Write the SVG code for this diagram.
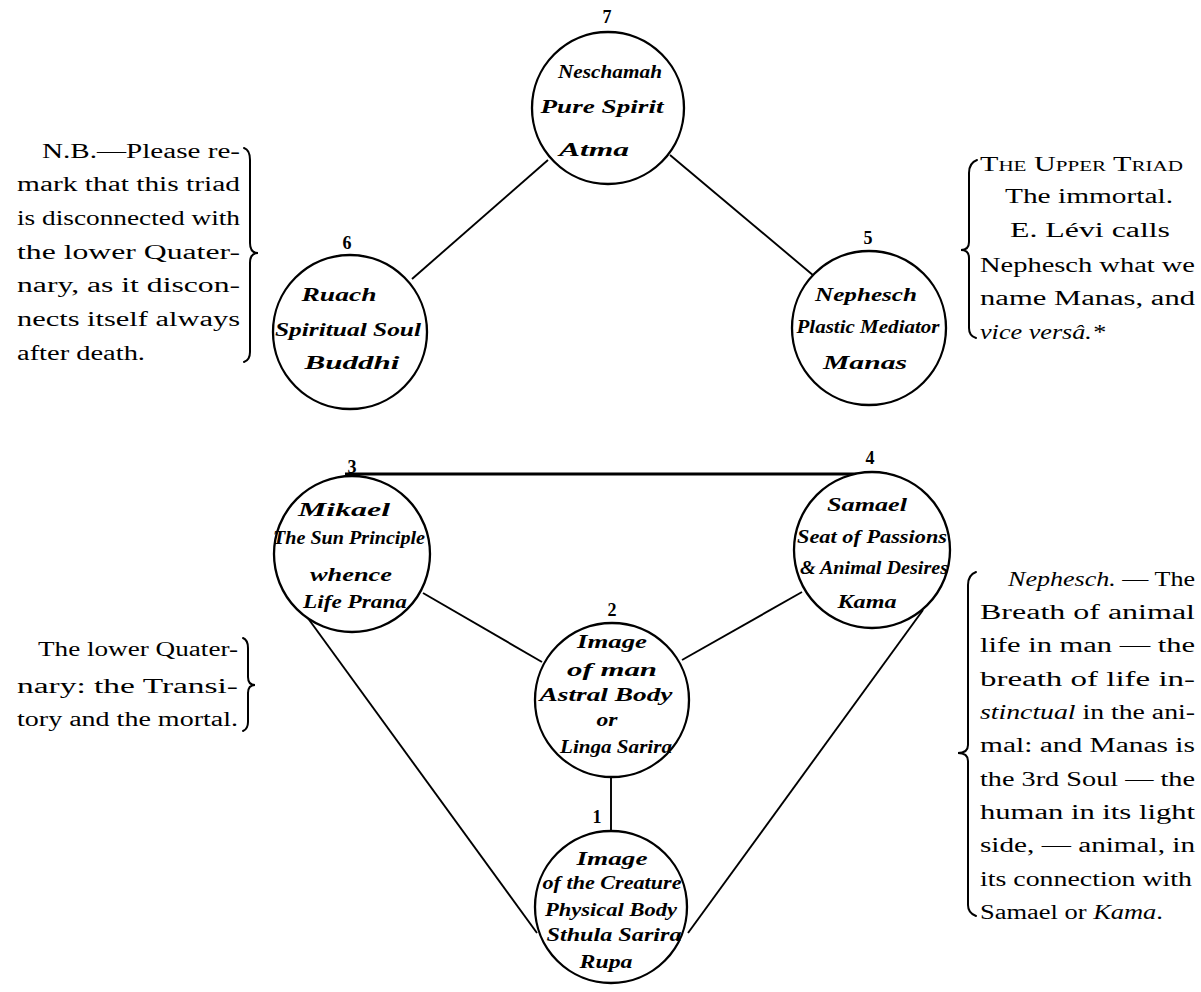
<svg xmlns="http://www.w3.org/2000/svg" width="1201" height="992" viewBox="0 0 1201 992">
<style>
.c{fill:#fff;stroke:#000;stroke-width:2.3}
.l{stroke:#000;stroke-width:1.9;fill:none}
.b{stroke:#000;stroke-width:2;fill:none;stroke-linecap:round}
.t{font-family:"Liberation Serif",serif;font-size:20px;fill:#000}
.ci{font-family:"Liberation Serif",serif;font-style:italic;font-weight:bold;font-size:18px;fill:#000;text-anchor:middle}
.n{font-family:"Liberation Serif",serif;font-weight:bold;font-size:18px;fill:#000;text-anchor:middle}
.i{font-style:italic}
</style>
<rect width="1201" height="992" fill="#fff"/>
<g id="connectors">
<line class="l" x1="548" y1="160" x2="412" y2="279"/>
<line class="l" x1="670" y1="155" x2="814" y2="276"/>
<line class="l" x1="345" y1="474" x2="887" y2="474" style="stroke-width:2.8"/>
<line class="l" x1="423" y1="593" x2="542" y2="662"/>
<line class="l" x1="802" y1="592" x2="682" y2="660"/>
<line class="l" x1="611" y1="777" x2="611" y2="832"/>
<line class="l" x1="302" y1="610" x2="537" y2="933"/>
<line class="l" x1="923" y1="610" x2="688" y2="933"/>
</g>
<g id="node7">
<circle class="c" cx="608" cy="108" r="76"/>
<text class="n" x="607" y="23">7</text>
<text class="ci" x="610" y="78" textLength="104" lengthAdjust="spacingAndGlyphs">Neschamah</text>
<text class="ci" x="602" y="113" textLength="123" lengthAdjust="spacingAndGlyphs">Pure Spirit</text>
<text class="ci" x="594" y="156" textLength="70" lengthAdjust="spacingAndGlyphs">Atma</text>
</g>
<g id="node6">
<circle class="c" cx="350" cy="332" r="77"/>
<text class="n" x="347" y="249">6</text>
<text class="ci" x="339" y="301" textLength="75" lengthAdjust="spacingAndGlyphs">Ruach</text>
<text class="ci" x="348" y="336" textLength="146" lengthAdjust="spacingAndGlyphs">Spiritual Soul</text>
<text class="ci" x="352" y="369" textLength="95" lengthAdjust="spacingAndGlyphs">Buddhi</text>
</g>
<g id="node5">
<circle class="c" cx="869" cy="328" r="77"/>
<text class="n" x="868" y="244">5</text>
<text class="ci" x="866" y="301" textLength="102" lengthAdjust="spacingAndGlyphs">Nephesch</text>
<text class="ci" x="868" y="333" textLength="143" lengthAdjust="spacingAndGlyphs">Plastic Mediator</text>
<text class="ci" x="865" y="369" textLength="84" lengthAdjust="spacingAndGlyphs">Manas</text>
</g>
<g id="node3">
<circle class="c" cx="352" cy="554" r="78"/>
<text class="n" x="352" y="473">3</text>
<text class="ci" x="344" y="516" textLength="92" lengthAdjust="spacingAndGlyphs">Mikael</text>
<text class="ci" x="349" y="544" textLength="152" lengthAdjust="spacingAndGlyphs">The Sun Principle</text>
<text class="ci" x="351" y="581" textLength="82" lengthAdjust="spacingAndGlyphs">whence</text>
<text class="ci" x="355" y="608" textLength="104" lengthAdjust="spacingAndGlyphs">Life Prana</text>
</g>
<g id="node4">
<circle class="c" cx="872" cy="550" r="78"/>
<text class="n" x="870" y="464">4</text>
<text class="ci" x="867" y="511" textLength="80" lengthAdjust="spacingAndGlyphs">Samael</text>
<text class="ci" x="872" y="543" textLength="150" lengthAdjust="spacingAndGlyphs">Seat of Passions</text>
<text class="ci" x="874" y="574" textLength="148" lengthAdjust="spacingAndGlyphs">&amp; Animal Desires</text>
<text class="ci" x="867" y="608" textLength="59" lengthAdjust="spacingAndGlyphs">Kama</text>
</g>
<g id="node2">
<circle class="c" cx="612" cy="700" r="77"/>
<text class="n" x="612" y="616">2</text>
<text class="ci" x="612" y="648" textLength="70" lengthAdjust="spacingAndGlyphs">Image</text>
<text class="ci" x="612" y="676" textLength="90" lengthAdjust="spacingAndGlyphs">of man</text>
<text class="ci" x="606" y="701" textLength="133" lengthAdjust="spacingAndGlyphs">Astral Body</text>
<text class="ci" x="607" y="726" textLength="21" lengthAdjust="spacingAndGlyphs">or</text>
<text class="ci" x="616" y="753" textLength="112" lengthAdjust="spacingAndGlyphs">Linga Sarira</text>
</g>
<g id="node1">
<circle class="c" cx="611" cy="907" r="76"/>
<text class="n" x="597" y="823">1</text>
<text class="ci" x="612" y="865" textLength="71" lengthAdjust="spacingAndGlyphs">Image</text>
<text class="ci" x="612" y="889" textLength="139" lengthAdjust="spacingAndGlyphs">of the Creature</text>
<text class="ci" x="611" y="916" textLength="132" lengthAdjust="spacingAndGlyphs">Physical Body</text>
<text class="ci" x="614" y="941" textLength="135" lengthAdjust="spacingAndGlyphs">Sthula Sarira</text>
<text class="ci" x="606" y="968" textLength="53" lengthAdjust="spacingAndGlyphs">Rupa</text>
</g>
<g id="note-upper-left">
<text class="t" x="42" y="158" textLength="198" lengthAdjust="spacingAndGlyphs">N.B.—Please re-</text>
<text class="t" x="17" y="191" textLength="223" lengthAdjust="spacingAndGlyphs">mark that this triad</text>
<text class="t" x="17" y="225" textLength="223" lengthAdjust="spacingAndGlyphs">is disconnected with</text>
<text class="t" x="17" y="259" textLength="223" lengthAdjust="spacingAndGlyphs">the lower Quater-</text>
<text class="t" x="17" y="292" textLength="223" lengthAdjust="spacingAndGlyphs">nary, as it discon-</text>
<text class="t" x="17" y="326" textLength="223" lengthAdjust="spacingAndGlyphs">nects itself always</text>
<text class="t" x="17" y="360" textLength="128" lengthAdjust="spacingAndGlyphs">after death.</text>
<path class="b" d="M244 148 Q250 150 250 160 L250 243 Q250 253 258 253 Q250 253 250 263 L250 352 Q250 360 244 362"/>
</g>
<g id="note-lower-left">
<text class="t" x="38" y="656" textLength="200" lengthAdjust="spacingAndGlyphs">The lower Quater-</text>
<text class="t" x="17" y="693" textLength="221" lengthAdjust="spacingAndGlyphs">nary: the Transi-</text>
<text class="t" x="17" y="726" textLength="221" lengthAdjust="spacingAndGlyphs">tory and the mortal.</text>
<path class="b" d="M243 638 Q248 640 248 648 L248 677 Q248 685 255 685 Q248 685 248 693 L248 722 Q248 729 243 731"/>
</g>
<g id="note-upper-right">
<text class="t" x="980" y="171" textLength="203" lengthAdjust="spacingAndGlyphs" style="font-variant:small-caps">The Upper Triad</text>
<text class="t" x="1005" y="203" textLength="168" lengthAdjust="spacingAndGlyphs">The immortal.</text>
<text class="t" x="1010" y="237" textLength="160" lengthAdjust="spacingAndGlyphs">E. Lévi calls</text>
<text class="t" x="980" y="272" textLength="215" lengthAdjust="spacingAndGlyphs">Nephesch what we</text>
<text class="t" x="980" y="305" textLength="215" lengthAdjust="spacingAndGlyphs">name Manas, and</text>
<text class="t i" x="980" y="339" textLength="125" lengthAdjust="spacingAndGlyphs">vice versâ.*</text>
<path class="b" d="M977 160 Q969 163 969 173 L969 242 Q969 250 961 250 Q969 250 969 258 L969 328 Q969 336 976 338"/>
</g>
<g id="note-lower-right">
<text class="t" x="1008" y="586" textLength="187" lengthAdjust="spacingAndGlyphs"><tspan class="i">Nephesch.</tspan> — The</text>
<text class="t" x="980" y="619" textLength="215" lengthAdjust="spacingAndGlyphs">Breath of animal</text>
<text class="t" x="980" y="652" textLength="215" lengthAdjust="spacingAndGlyphs">life in man — the</text>
<text class="t" x="980" y="686" textLength="215" lengthAdjust="spacingAndGlyphs">breath of life in-</text>
<text class="t" x="980" y="719" textLength="215" lengthAdjust="spacingAndGlyphs"><tspan class="i">stinctual</tspan> in the ani-</text>
<text class="t" x="980" y="752" textLength="215" lengthAdjust="spacingAndGlyphs">mal: and Manas is</text>
<text class="t" x="980" y="786" textLength="215" lengthAdjust="spacingAndGlyphs">the 3rd Soul — the</text>
<text class="t" x="980" y="819" textLength="215" lengthAdjust="spacingAndGlyphs">human in its light</text>
<text class="t" x="980" y="852" textLength="215" lengthAdjust="spacingAndGlyphs">side, — animal, in</text>
<text class="t" x="980" y="886" textLength="212" lengthAdjust="spacingAndGlyphs">its connection with</text>
<text class="t" x="980" y="919" textLength="183" lengthAdjust="spacingAndGlyphs">Samael or <tspan class="i">Kama</tspan>.</text>
<path class="b" d="M976 572 Q968 575 968 585 L968 745 Q968 753 958 753 Q968 753 968 761 L968 905 Q968 913 976 916"/>
</g>
</svg>
